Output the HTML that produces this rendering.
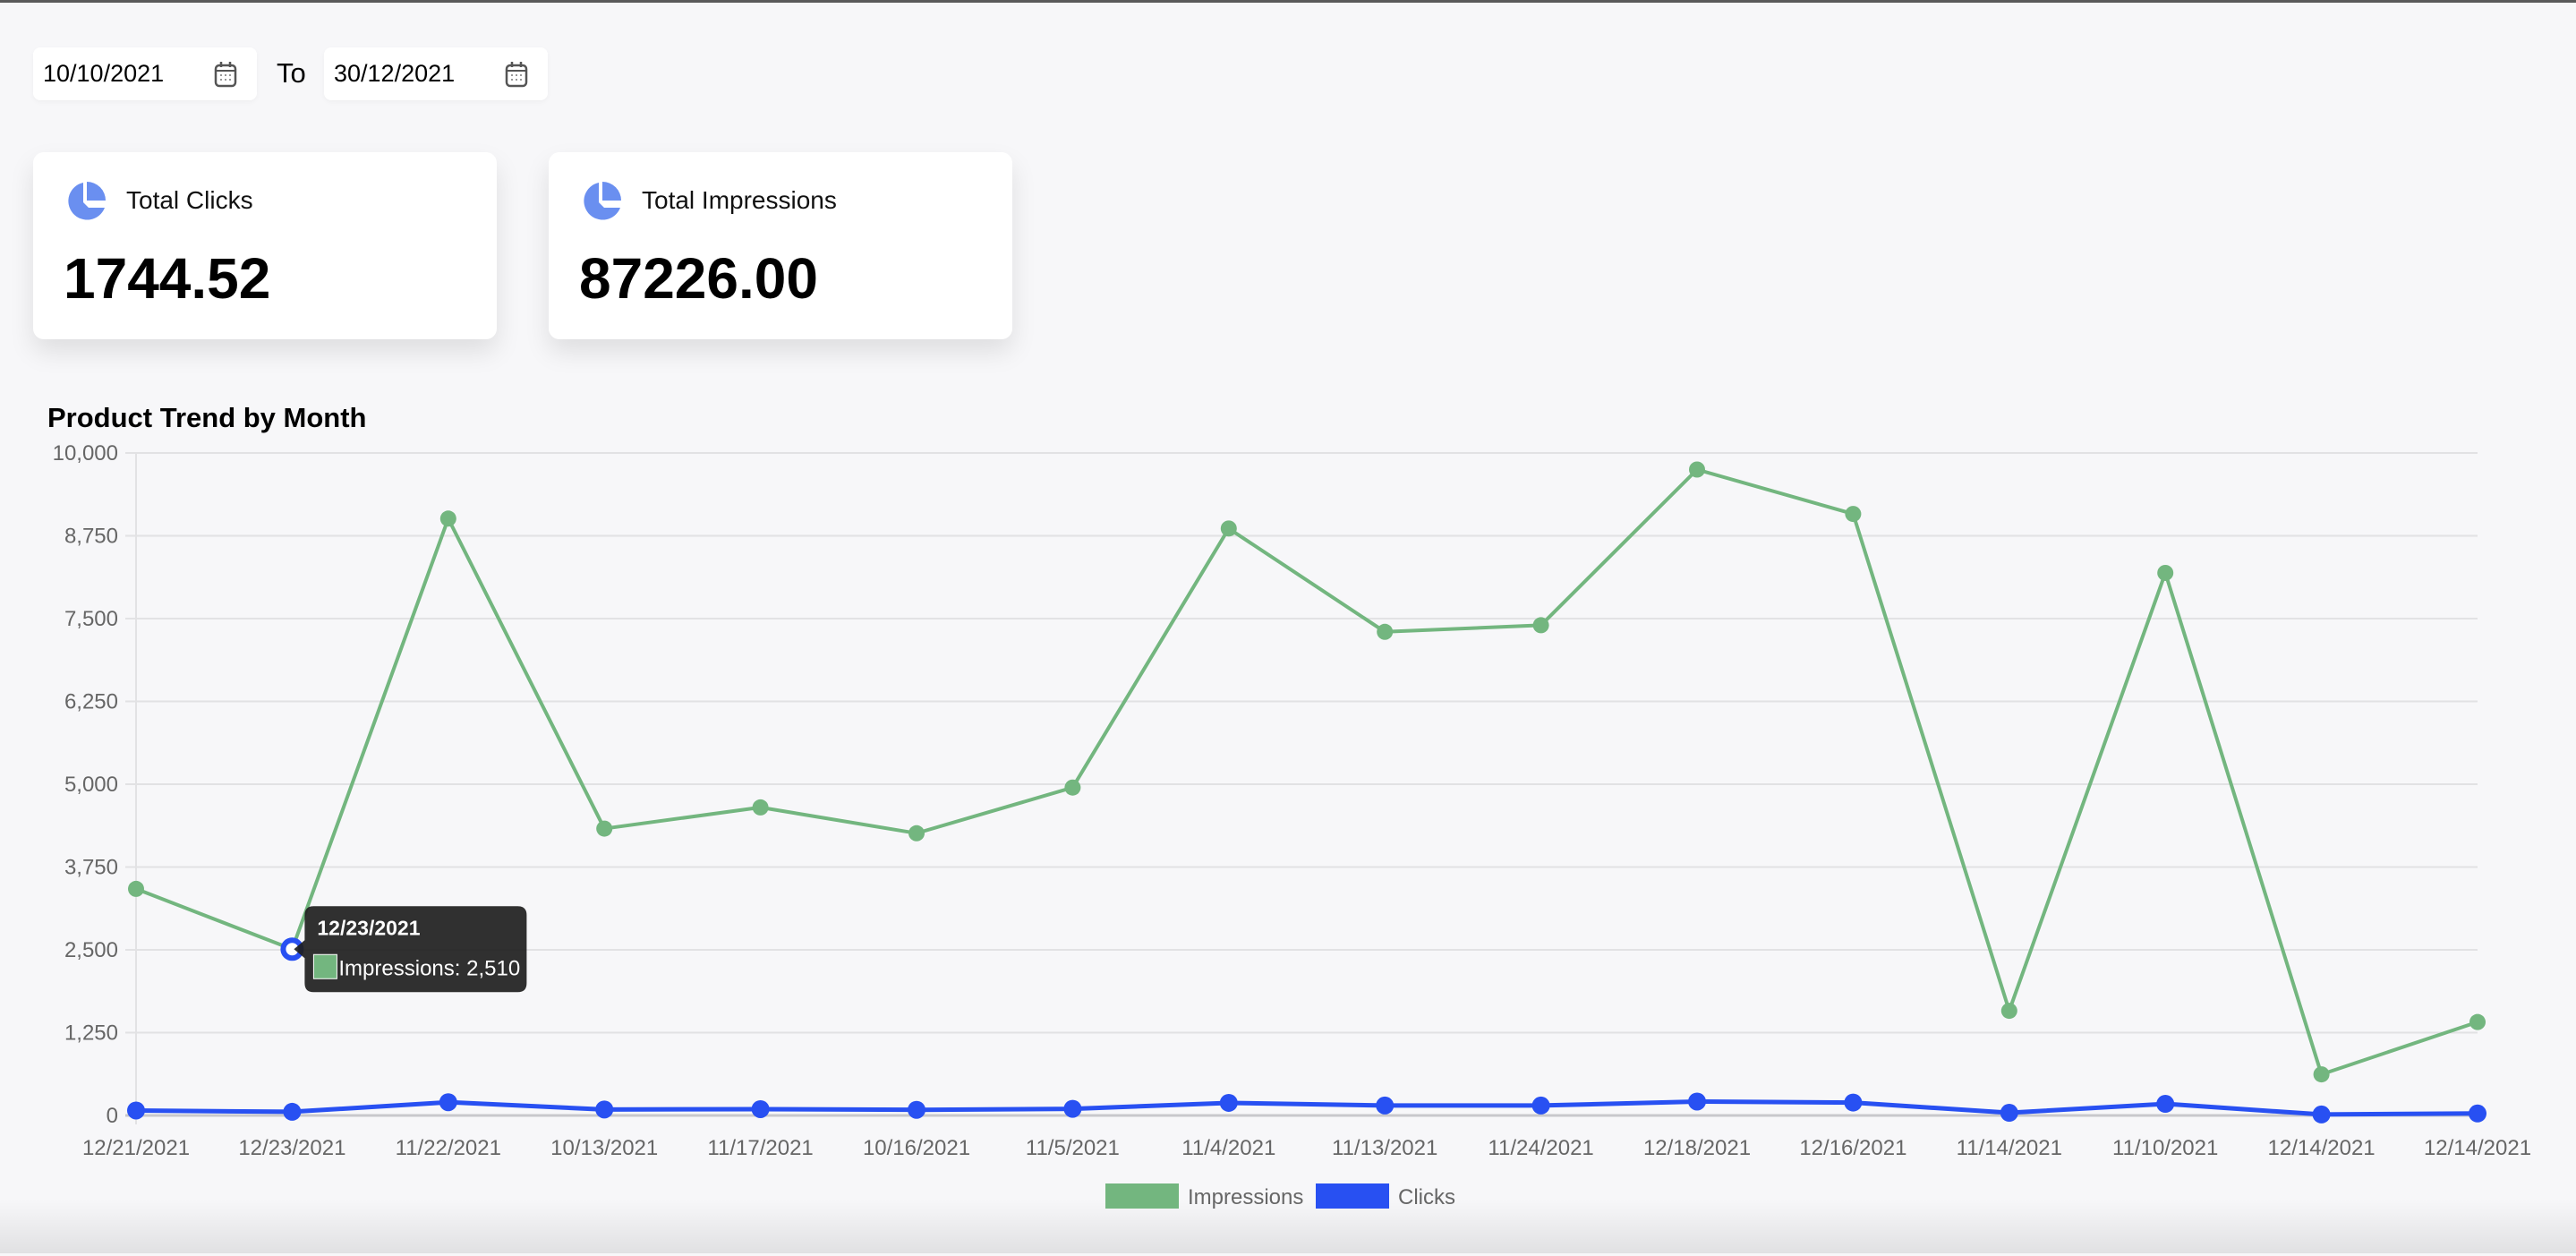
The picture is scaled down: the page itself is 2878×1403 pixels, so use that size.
<!DOCTYPE html>
<html><head><meta charset="utf-8">
<style>
html,body{margin:0;padding:0;}
body{width:2878px;height:1400px;background:#f7f7f9;font-family:"Liberation Sans",Arial,sans-serif;position:relative;overflow:hidden;border-top:3px solid #5a5a5a;box-sizing:border-box;}
.date{position:absolute;top:50px;height:59px;width:250px;background:#fff;border-radius:8px;box-shadow:0 2px 6px rgba(0,0,0,0.04);font-size:27px;line-height:59px;}
.date span{position:absolute;left:11px;}
.date svg{position:absolute;right:22px;top:15px;}
.card{position:absolute;top:167px;width:518px;height:209px;background:#fff;border-radius:12px;box-shadow:0 14px 28px rgba(0,0,0,0.10);}
.card .lbl{position:absolute;left:104px;top:38px;font-size:28px;color:#111;}
.card .num{position:absolute;left:34px;top:104px;font-size:64px;font-weight:bold;color:#000;}
.card svg{position:absolute;left:36px;top:32px;}
.bottom{position:absolute;left:0;right:0;bottom:0;height:60px;background:linear-gradient(to bottom,rgba(0,0,0,0),rgba(0,0,0,0.09));}
</style></head>
<body>
<div class="date" style="left:37px"><span>10/10/2021</span>
<svg width="26" height="30" viewBox="0 0 26 30"><rect x="2" y="5" width="22" height="23" rx="4" fill="none" stroke="#555" stroke-width="2.5"/><line x1="2" y1="11" x2="24" y2="11" stroke="#555" stroke-width="2"/><line x1="8" y1="1" x2="8" y2="7" stroke="#555" stroke-width="2.5"/><line x1="18" y1="1" x2="18" y2="7" stroke="#555" stroke-width="2.5"/><g fill="#777"><circle cx="8" cy="16" r="1"/><circle cx="13" cy="16" r="1"/><circle cx="18" cy="16" r="1"/><circle cx="8" cy="21" r="1"/><circle cx="13" cy="21" r="1"/><circle cx="18" cy="21" r="1"/></g></svg></div>
<div style="position:absolute;left:309px;top:61px;font-size:31px;">To</div>
<div class="date" style="left:362px"><span>30/12/2021</span>
<svg width="26" height="30" viewBox="0 0 26 30"><rect x="2" y="5" width="22" height="23" rx="4" fill="none" stroke="#555" stroke-width="2.5"/><line x1="2" y1="11" x2="24" y2="11" stroke="#555" stroke-width="2"/><line x1="8" y1="1" x2="8" y2="7" stroke="#555" stroke-width="2.5"/><line x1="18" y1="1" x2="18" y2="7" stroke="#555" stroke-width="2.5"/><g fill="#777"><circle cx="8" cy="16" r="1"/><circle cx="13" cy="16" r="1"/><circle cx="18" cy="16" r="1"/><circle cx="8" cy="21" r="1"/><circle cx="13" cy="21" r="1"/><circle cx="18" cy="21" r="1"/></g></svg></div>

<div class="card" style="left:37px">
<svg width="46" height="46" viewBox="0 0 46 46"><path d="M20 2 A21 21 0 1 0 44 30 L26 30 L20 24 Z" fill="#6a8ff0"/><path d="M24 1 A21 21 0 0 1 45 22 L24 22 Z" fill="#6a8ff0"/></svg>
<div class="lbl">Total Clicks</div>
<div class="num">1744.52</div></div>
<div class="card" style="left:613px">
<svg width="46" height="46" viewBox="0 0 46 46"><path d="M20 2 A21 21 0 1 0 44 30 L26 30 L20 24 Z" fill="#6a8ff0"/><path d="M24 1 A21 21 0 0 1 45 22 L24 22 Z" fill="#6a8ff0"/></svg>
<div class="lbl">Total Impressions</div>
<div class="num">87226.00</div></div>

<div class="bottom"></div>
<div style="position:absolute;left:53px;top:446px;font-size:31px;font-weight:bold;">Product Trend by Month</div>

<svg id="chart" width="2878" height="1400" style="position:absolute;left:0;top:0;" font-family="Liberation Sans, Arial, sans-serif"></svg>

<script>
const categories=["12/21/2021","12/23/2021","11/22/2021","10/13/2021","11/17/2021","10/16/2021","11/5/2021","11/4/2021","11/13/2021","11/24/2021","12/18/2021","12/16/2021","11/14/2021","11/10/2021","12/14/2021","12/14/2021"];
const impressions=[3420,2510,9010,4330,4650,4260,4950,8860,7300,7400,9750,9080,1580,8190,620,1410];
const clicks=[75,55,200,90,95,85,100,190,150,150,210,195,40,175,15,30];
const yTicks=[0,1250,2500,3750,5000,6250,7500,8750,10000];
const yMax=10000;
const NS="http://www.w3.org/2000/svg";
const svg=document.getElementById('chart');
const X0=152,X1=2768,Y0=1243,Y1=503;
function xs(i){return X0+(X1-X0)*i/(categories.length-1);}
function ys(v){return Y0-(Y0-Y1)*v/yMax;}
function mk(tag,attrs){const e=document.createElementNS(NS,tag);for(const k in attrs)e.setAttribute(k,attrs[k]);svg.appendChild(e);return e;}
yTicks.forEach(t=>{
  const y=ys(t);
  const g=mk('line',{x1:140,x2:X1,y1:y,y2:y,stroke:t===0?'#c8c8cc':'#e2e2e4','stroke-width':t===0?3:2});
  
  
  const tx=mk('text',{x:132,y:y+8,'text-anchor':'end','font-size':24,fill:'#666'});
  tx.textContent=t.toLocaleString('en-US');
  
  
});
const va=mk('line',{x1:X0,x2:X0,y1:Y1,y2:Y0+10,stroke:'#e2e2e4','stroke-width':2});


categories.forEach((c,i)=>{
  const tx=mk('text',{x:xs(i),y:1287,'text-anchor':'middle','font-size':24,fill:'#666'});
  tx.textContent=c;
  
  
});
function series(vals,color,w,r,name){
  const p=mk('polyline',{points:vals.map((v,i)=>xs(i)+','+ys(v)).join(' '),fill:'none',stroke:color,'stroke-width':w,'stroke-linejoin':'round'});
  
  
  vals.forEach((v,i)=>{
    const c=mk('circle',{cx:xs(i),cy:ys(v),r:r,fill:color});
    
    
  });
}
series(impressions,'#73b67f',4,9,'impressions');
series(clicks,'#2850f2',5,10,'clicks');
const hp=mk('circle',{cx:xs(1),cy:ys(impressions[1]),r:10,fill:'#fff',stroke:'#2850f2','stroke-width':6});


const tx0=xs(1)+2, ty0=ys(impressions[1]);
const tb=mk('path',{d:`M${tx0} ${ty0} L${tx0+12} ${ty0-10} L${tx0+12} ${ty0-38} Q${tx0+12} ${ty0-48} ${tx0+22} ${ty0-48} L${tx0+250} ${ty0-48} Q${tx0+260} ${ty0-48} ${tx0+260} ${ty0-38} L${tx0+260} ${ty0+38} Q${tx0+260} ${ty0+48} ${tx0+250} ${ty0+48} L${tx0+22} ${ty0+48} Q${tx0+12} ${ty0+48} ${tx0+12} ${ty0+38} L${tx0+12} ${ty0+10} Z`,fill:'rgba(30,30,30,0.92)'});


const tt=mk('text',{x:tx0+26,y:ty0-16,'font-size':23,'font-weight':'bold',fill:'#fff'});
tt.textContent=categories[1];


const ts=mk('rect',{x:tx0+22,y:ty0+6,width:26,height:27,fill:'#73b67f',stroke:'#fff','stroke-width':1});


const tv=mk('text',{x:tx0+50,y:ty0+29,'font-size':24,fill:'#fff'});
tv.textContent='Impressions: '+impressions[1].toLocaleString('en-US');


const l1=mk('rect',{x:1235,y:1319,width:82,height:28,fill:'#73b67f'});


const l1t=mk('text',{x:1327,y:1342,'font-size':24,fill:'#666'});
l1t.textContent='Impressions';


const l2=mk('rect',{x:1470,y:1319,width:82,height:28,fill:'#2850f2'});


const l2t=mk('text',{x:1562,y:1342,'font-size':24,fill:'#666'});
l2t.textContent='Clicks';


</script>
</body></html>
